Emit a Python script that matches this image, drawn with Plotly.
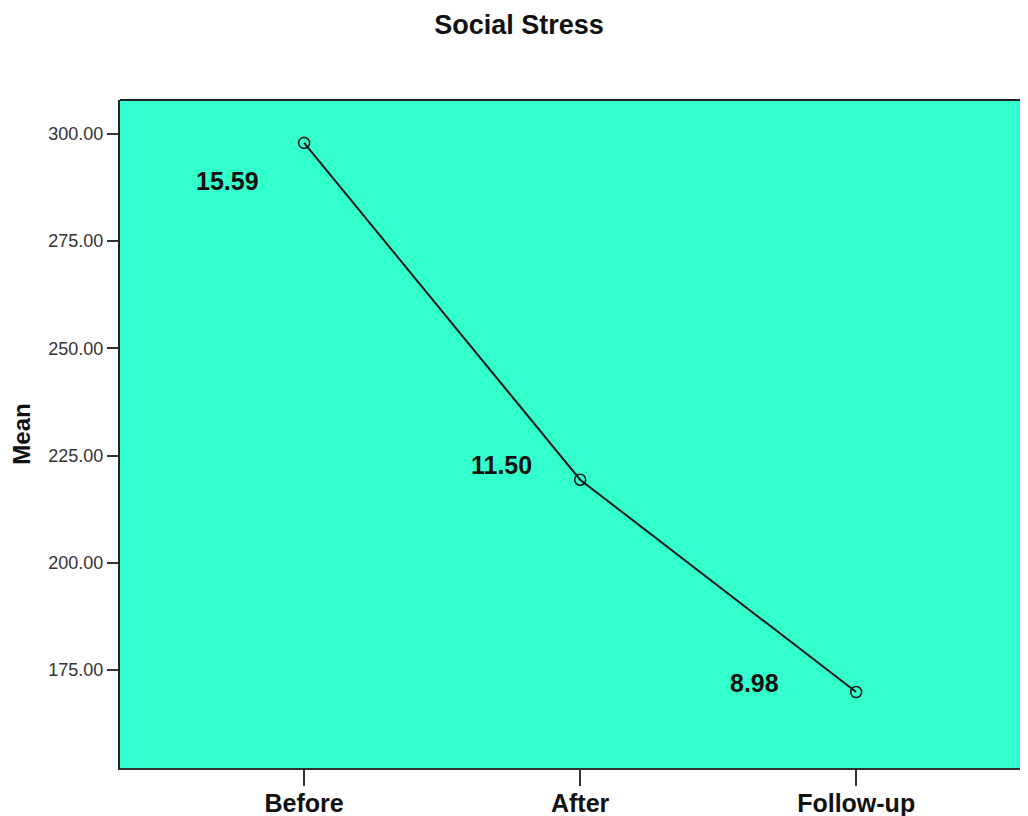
import plotly.graph_objects as go

categories = ["Before", "After", "Follow-up"]
means = [297.9, 219.4, 169.9]
labels = ["15.59", "11.50", "8.98"]
y_ticks = [175, 200, 225, 250, 275, 300]

xpos = list(range(len(categories)))

fig = go.Figure()
fig.add_trace(go.Scatter(
    x=xpos, y=means, mode="lines+markers",
    line=dict(color="#1a1a1a", width=2),
    marker=dict(symbol="circle-open", size=11, color="#1a1a1a", line=dict(width=1.6)),
    hoverinfo="skip", showlegend=False,
))

font = "Liberation Sans, Arial, sans-serif"
label_shifts = [(-77, -38), (-79, 15), (-102, 9)]
for xi, yi, t, (dx, dy) in zip(xpos, means, labels, label_shifts):
    fig.add_annotation(x=xi, y=yi, text=f"<b>{t}</b>", showarrow=False, xshift=dx, yshift=dy,
                       font=dict(family=font, size=25, color="#111"))

# page body has an 8px margin; compensate so the figure fills the window
W, H = 1040, 808
fig.update_layout(
    width=W, height=H,
    margin=dict(l=112, r=0, t=92, b=48, autoexpand=False),
    paper_bgcolor="white", plot_bgcolor="#33FFCC",
    title=dict(text="<b>Social Stress</b>", x=511/W, xanchor="center", xref="container",
               y=1 - 17/H, yanchor="middle", yref="container",
               font=dict(family=font, size=27, color="#111")),
    font=dict(family=font),
    xaxis=dict(range=[-0.667, 2.695], tickvals=xpos,
               ticktext=[f"<b>{c}</b>" for c in categories],
               tickfont=dict(size=25, color="#111"),
               ticks="outside", ticklen=16, tickwidth=1.5, tickcolor="#333",
               ticklabelstandoff=-4,
               showline=True, linecolor="#333", linewidth=2, automargin=False,
               showgrid=False, zeroline=False, fixedrange=True),
    yaxis=dict(range=[152.2, 307.9], tickvals=y_ticks,
               ticktext=[f"{v:.2f}" for v in y_ticks],
               tickfont=dict(size=18, color="#333"),
               ticks="outside", ticklen=11, tickwidth=2, tickcolor="#333",
               showline=True, linecolor="#222", linewidth=2, automargin=False,
               showgrid=False, zeroline=False,
               title=dict(text="<b>Mean</b>", font=dict(size=24, color="#111"), standoff=20)),
)
fig.add_shape(type="line", xref="paper", yref="paper", x0=0, x1=1, y0=1, y1=1,
              line=dict(color="#222", width=2))

fig.write_html("out.html")
